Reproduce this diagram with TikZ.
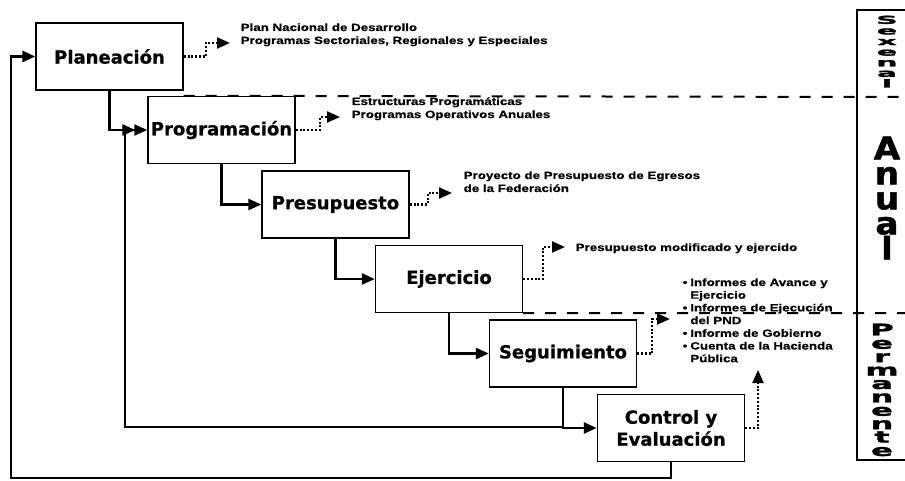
\documentclass[tikz,border=0pt]{standalone}
\usepackage{fontspec}
\newfontfamily\cajafont{DejaVu Sans}[BoldFeatures={FakeBold=0.8}]
\newfontfamily\descfont{Liberation Sans}[FakeStretch=1.27,BoldFeatures={FakeBold=0.6}]
\newfontfamily\colfont{DejaVu Sans}[BoldFeatures={FakeBold=1.5}]
\usetikzlibrary{arrows.meta}

\begin{document}
\begin{tikzpicture}[x=1pt,y=-1pt,line width=1.4pt,>={Triangle[length=13pt,width=11pt]},
  caja/.style={draw,line width=1.4pt,minimum width=147,minimum height=67,inner sep=0pt,align=center,
    font=\cajafont\bfseries\fontsize{18}{22}\selectfont},
  flecha/.style={->,line width=2.5pt},
  punteada/.style={->,line width=2.2pt,dash pattern=on 2pt off 1.8pt},
  desc/.style={anchor=base west,inner sep=0pt,align=left,font=\descfont\bfseries\fontsize{10.5}{13}\selectfont},
  corte/.style={line width=2pt,dash pattern=on 11pt off 11pt},
  letras/.style={anchor=north,inner sep=0pt,align=center,transform shape}]
  \useasboundingbox (0,0) rectangle (905,481);
  % etapas del proceso
  \node[caja] (plan) at (109.5,56.5) {Planeación};
  \node[caja] (prog) at (221.5,130) {Programación};
  \node[caja] (pres) at (335.5,204.5) {Presupuesto};
  \node[caja] (ejer) at (449,279) {Ejercicio};
  \node[caja] (segu) at (563,353.5) {Seguimiento};
  \node[caja] (ctrl) at (671,428) {Control y\\Evaluación};
  % cortes de periodo
  \draw[corte] (plan.east |- prog.north) -- (905,97);
  \draw[corte] (ejer.south east) -- (905,313);
  % columna de periodos (letras apiladas y ensanchadas)
  \draw (905,10) -- (857,10) -- (857,460) -- (905,460);
  \begin{scope}[shift={(887,15)},xscale=2.7]
    \node[letras,font=\colfont\bfseries\fontsize{11}{10.6}\selectfont] (sexenal) {S\\e\\x\\e\\n\\a\\l};
  \end{scope}
  \begin{scope}[shift={(887,136)},xscale=1.1]
    \node[letras,font=\colfont\bfseries\fontsize{31}{25}\selectfont] (anual) {A\\n\\u\\a\\l};
  \end{scope}
  \begin{scope}[shift={(882,323)},xscale=2.0]
    \node[letras,font=\colfont\bfseries\fontsize{16}{13.4}\selectfont] (perm) {P\\e\\r\\m\\a\\n\\e\\n\\t\\e};
  \end{scope}
  % secuencia
  \draw[flecha,shorten >=12pt] (plan.south) |- (prog.west);
  \draw[flecha] (prog.south) |- (pres.west);
  \draw[flecha] (pres.south) |- (ejer.west);
  \draw[flecha] (ejer.south) |- (segu.west);
  \draw[flecha] (segu.south) |- (ctrl.west);
  % retroalimentacion
  \coordinate (ret1) at (125,427);
  \coordinate (ret2) at (11,478);
  \draw[flecha,line width=2.2pt] (segu.south) |- (ret1) |- (prog.west);
  \draw[flecha,line width=2.8pt] (ctrl.south) |- (ret2) |- (plan.west);
  % productos de cada etapa
  \node[desc] (dplan) at (240,44) {Plan Nacional de Desarrollo\\Programas Sectoriales, Regionales y Especiales};
  \node[desc] (dprog) at (351,118) {Estructuras Programáticas\\Programas Operativos Anuales};
  \node[desc] (dpres) at (463,192) {Proyecto de Presupuesto de Egresos\\de la Federación};
  \node[desc] (dejer) at (575,251) {Presupuesto modificado y ejercido};
  \node[desc] (dsegu) at (682,286) {\fontsize{10.5}{12.7}\selectfont
    \begin{tabular}[t]{@{}l@{\hspace{3pt}}l@{}}
    • & Informes de Avance y\\ & Ejercicio\\ • & Informes de Ejecución\\ & del PND\\
    • & Informe de Gobierno\\ • & Cuenta de la Hacienda\\ & Pública
    \end{tabular}};
  \coordinate (pplan) at (230,43);
  \coordinate (pprog) at (340,117);
  \coordinate (ppres) at (452,193);
  \coordinate (pejer) at (565,247);
  \coordinate (psegu) at (670,319);
  \coordinate (pctrl) at (758,370);
  \draw[punteada] (plan.east) -- ++(22,0) |- (pplan);
  \draw[punteada] (prog.east) -- ++(24,0) |- (pprog);
  \draw[punteada] (pres.east) -- ++(18,0) |- (ppres);
  \draw[punteada] (ejer.east) -- ++(20,0) |- (pejer);
  \draw[punteada] (segu.east) -- ++(15,0) |- (psegu);
  \draw[punteada] (ctrl.east) -| (pctrl);
\end{tikzpicture}
\end{document}
